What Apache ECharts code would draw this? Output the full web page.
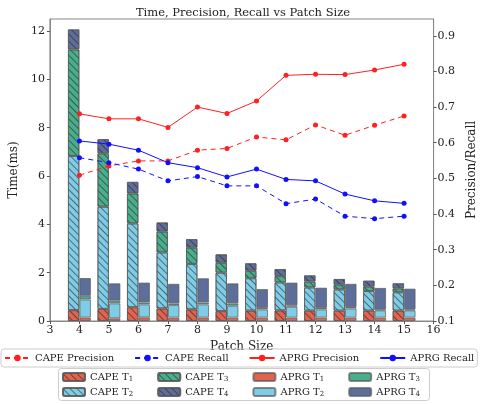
<!DOCTYPE html>
<html>
<head>
<meta charset="utf-8">
<script src="https://cdn.jsdelivr.net/npm/echarts@6/dist/echarts.min.js"></script>
<style>
html, body { margin: 0; padding: 0; background: #fff; }
#chart { width: 486px; height: 404px; }
</style>
</head>
<body>
<div id="chart"></div>
<script>
// x axis runs 3..16, data only at 4..15
let x_labels = ['3', '4', '5', '6', '7', '8', '9', '10', '11', '12', '13', '14', '15', '16'];

// stacked time segments (ms), patch size 4..15
let cape_t1 = [0.45, 0.50, 0.57, 0.52, 0.48, 0.41, 0.43, 0.44, 0.43, 0.43, 0.43, 0.43];
let cape_t2 = [6.38, 4.23, 3.47, 2.32, 1.88, 1.59, 1.34, 1.16, 0.96, 0.88, 0.81, 0.76];
let cape_t3 = [4.41, 2.21, 1.24, 0.86, 0.67, 0.41, 0.31, 0.26, 0.24, 0.19, 0.18, 0.16];
let cape_t4 = [0.83, 0.59, 0.48, 0.38, 0.36, 0.35, 0.31, 0.29, 0.26, 0.24, 0.25, 0.21];
let aprg_t1 = [0.14, 0.11, 0.15, 0.14, 0.14, 0.14, 0.14, 0.14, 0.14, 0.14, 0.14, 0.14];
let aprg_t2 = [0.75, 0.62, 0.54, 0.52, 0.55, 0.49, 0.34, 0.45, 0.34, 0.38, 0.30, 0.30];
let aprg_t3 = [0.15, 0.11, 0.08, 0.07, 0.08, 0.10, 0.06, 0.06, 0.06, 0.06, 0.04, 0.04];
let aprg_t4 = [0.74, 0.72, 0.82, 0.81, 1.00, 0.83, 0.78, 0.94, 0.84, 0.96, 0.89, 0.86];

let cape_precision = [0.509, 0.535, 0.549, 0.549, 0.579, 0.584, 0.616, 0.608, 0.650, 0.621, 0.649, 0.675];
let cape_recall = [0.558, 0.544, 0.526, 0.493, 0.505, 0.479, 0.479, 0.429, 0.442, 0.394, 0.387, 0.394];
let aprg_precision = [0.681, 0.667, 0.667, 0.643, 0.700, 0.682, 0.717, 0.789, 0.792, 0.791, 0.804, 0.820];
let aprg_recall = [0.605, 0.596, 0.579, 0.544, 0.530, 0.504, 0.526, 0.497, 0.493, 0.456, 0.437, 0.430];

let left_ticks = [0, 12.5, 2];
let right_ticks = [0.1, 0.947, 0.1];

let colors = {t1: '#e06450', t2: '#7fcce6', t3: '#48ae8c', t4: '#5e6e9a'};
let serif = '"DejaVu Serif", serif';

let hatch = {
    symbol: 'rect',
    symbolSize: 1,
    color: 'rgba(30,30,30,0.55)',
    dashArrayX: [1, 0],
    dashArrayY: [1, 4],
    rotation: Math.PI / 4
};

// pad with empty slots for the 3 and 16 ends of the axis
function padded(vals){
    return ['-'].concat(vals, ['-']);
}

function barSeries(name, vals, stack, color, hatched){
    let style = {color: color, borderColor: 'rgba(90,90,90,0.7)', borderWidth: 1};
    if(hatched){ style.decal = hatch; }
    return {
        name: name, type: 'bar', stack: stack, data: padded(vals),
        barWidth: 11.5, barGap: '0%',
        itemStyle: style,
        emphasis: {disabled: true}
    };
}

function lineSeries(name, vals, color, dashed){
    return {
        name: name, type: 'line', yAxisIndex: 1, data: padded(vals),
        symbol: 'circle', symbolSize: 5,
        itemStyle: {color: color},
        lineStyle: {color: color, width: 1, type: dashed ? [5, 4] : 'solid'},
        z: 5
    };
}

function barLegend(names, top){
    return {
        data: names,
        left: 62, top: top, itemGap: 24, itemWidth: 22, itemHeight: 8,
        padding: 0,
        formatter: function (name) { return name.slice(0, -1) + '{s|' + name.slice(-1) + '}'; },
        textStyle: {
            fontFamily: serif, fontSize: 10, color: '#222', lineHeight: 12,
            rich: {s: {fontFamily: serif, fontSize: 7, color: '#222', lineHeight: 12, verticalAlign: 'bottom', padding: [4, 0, 0, 0]}}
        }
    };
}

let chart = echarts.init(document.getElementById('chart'));

let option = {
    animation: false,
    textStyle: {fontFamily: serif},
    title: {
        text: 'Time, Precision, Recall vs Patch Size',
        left: 'center', top: 2,
        textStyle: {fontFamily: serif, fontSize: 11.5, fontWeight: 'normal', color: '#222'}
    },
    grid: {left: 38, right: 35, top: 19, bottom: 83, show: true, borderColor: '#888', borderWidth: 1},
    graphic: [{
        type: 'rect', left: 58, top: 368, silent: true,
        shape: {width: 371, height: 32, r: 3},
        style: {fill: '#fff', stroke: '#ccc', lineWidth: 1}
    }],
    legend: [{
        data: ['CAPE Precision', 'CAPE Recall', 'APRG Precision', 'APRG Recall'],
        left: 1, top: 349, itemGap: 20, itemWidth: 25, itemHeight: 8,
        padding: [4, 3],
        borderColor: '#ccc', borderWidth: 1, borderRadius: 3,
        textStyle: {fontFamily: serif, fontSize: 10, color: '#222'}
    },
        barLegend(['CAPE T1', 'CAPE T3', 'APRG T1', 'APRG T3'], 371),
        barLegend(['CAPE T2', 'CAPE T4', 'APRG T2', 'APRG T4'], 386)
    ],
    xAxis: {
        type: 'category', data: x_labels, boundaryGap: false,
        name: 'Patch Size', nameLocation: 'middle', nameGap: 16,
        nameTextStyle: {fontFamily: serif, fontSize: 12, color: '#222'},
        axisLine: {lineStyle: {color: '#888'}},
        axisTick: {show: true, length: 3, alignWithLabel: true, lineStyle: {color: '#555'}},
        axisLabel: {fontFamily: serif, fontSize: 11, color: '#222', margin: 4, interval: 0},
        splitLine: {show: false}
    },
    yAxis: [{
        type: 'value', min: left_ticks[0], max: left_ticks[1], interval: left_ticks[2],
        name: 'Time(ms)', nameLocation: 'middle', nameGap: 24,
        nameTextStyle: {fontFamily: serif, fontSize: 12, color: '#222'},
        axisLine: {show: true, lineStyle: {color: '#888'}},
        axisTick: {show: true, length: 3, lineStyle: {color: '#555'}},
        axisLabel: {fontFamily: serif, fontSize: 11, color: '#222', margin: 5, showMaxLabel: false},
        splitLine: {show: false}
    }, {
        type: 'value', min: right_ticks[0], max: right_ticks[1], interval: right_ticks[2],
        position: 'right',
        name: 'Precision/Recall', nameLocation: 'middle', nameGap: 32,
        nameTextStyle: {fontFamily: serif, fontSize: 12, color: '#222'},
        axisLine: {show: true, lineStyle: {color: '#888'}},
        axisTick: {show: true, length: 3, lineStyle: {color: '#555'}},
        axisLabel: {fontFamily: serif, fontSize: 11, color: '#222', margin: 4, showMaxLabel: false,
            formatter: function (v) { return v.toFixed(1); }},
        splitLine: {show: false}
    }],
    series: [
        barSeries('CAPE T1', cape_t1, 'cape', colors.t1, true),
        barSeries('CAPE T2', cape_t2, 'cape', colors.t2, true),
        barSeries('CAPE T3', cape_t3, 'cape', colors.t3, true),
        barSeries('CAPE T4', cape_t4, 'cape', colors.t4, true),
        barSeries('APRG T1', aprg_t1, 'aprg', colors.t1, false),
        barSeries('APRG T2', aprg_t2, 'aprg', colors.t2, false),
        barSeries('APRG T3', aprg_t3, 'aprg', colors.t3, false),
        barSeries('APRG T4', aprg_t4, 'aprg', colors.t4, false),
        lineSeries('CAPE Precision', cape_precision, '#ff2020', true),
        lineSeries('CAPE Recall', cape_recall, '#1010ff', true),
        lineSeries('APRG Precision', aprg_precision, '#ff2020', false),
        lineSeries('APRG Recall', aprg_recall, '#1010ff', false)
    ]
};

chart.setOption(option);
</script>
</body>
</html>
